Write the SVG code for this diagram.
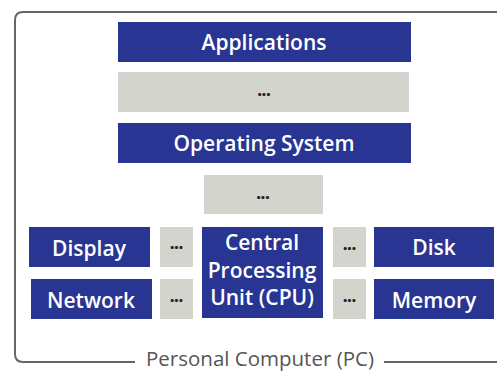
<svg xmlns="http://www.w3.org/2000/svg" width="497" height="371" viewBox="0 0 497 371">
<style>
.b{fill:#283593}
.g{fill:#d4d4cf}
.t{font-family:"Open Sans","Liberation Sans",sans-serif;font-weight:600;font-size:21px;fill:#fff;text-anchor:middle}
.d{font-family:"Open Sans","Liberation Sans",sans-serif;font-weight:800;font-size:15px;fill:#222;text-anchor:middle}
.f{fill:none;stroke:#666;stroke-width:2}
.l{font-family:"Open Sans","Liberation Sans",sans-serif;font-size:20.5px;fill:#555;text-anchor:middle}
</style>
<g id="frame">
<path class="f" d="M135,362 H23 Q15,362 15,354 V20 Q15,12 23,12 H500"/>
<path class="f" d="M384,362 H500"/>
<text class="l" x="260" y="366">Personal Computer (PC)</text>
</g>
<g id="connectors"></g>
<g id="applications"><rect class="b" x="118" y="22" width="293" height="40"/><text class="t" x="264" y="50">Applications</text></g>
<g id="dots1"><rect class="g" x="118" y="72" width="291" height="40"/><text class="d" x="264" y="96">...</text></g>
<g id="os"><rect class="b" x="118" y="123" width="293" height="40"/><text class="t" x="264" y="151">Operating System</text></g>
<g id="dots2"><rect class="g" x="204" y="175" width="119" height="39"/><text class="d" x="263" y="199">...</text></g>
<g id="display"><rect class="b" x="29" y="227" width="121" height="40"/><text class="t" x="89" y="256">Display</text></g>
<g id="network"><rect class="b" x="31" y="279" width="121" height="40"/><text class="t" x="91" y="308">Network</text></g>
<g id="dots3"><rect class="g" x="160" y="227" width="33" height="40"/><text class="d" x="176.5" y="249">...</text></g>
<g id="dots4"><rect class="g" x="160" y="279" width="33" height="40"/><text class="d" x="176.5" y="302">...</text></g>
<g id="cpu"><rect class="b" x="202" y="227" width="121" height="91"/>
<text class="t" x="262" y="250">Central</text>
<text class="t" x="262" y="278">Processing</text>
<text class="t" x="262" y="305">Unit (CPU)</text></g>
<g id="dots5"><rect class="g" x="333" y="227" width="33" height="40"/><text class="d" x="349.5" y="250">...</text></g>
<g id="dots6"><rect class="g" x="333" y="279" width="33" height="40"/><text class="d" x="349.5" y="302">...</text></g>
<g id="disk"><rect class="b" x="374" y="227" width="120" height="40"/><text class="t" x="434" y="255">Disk</text></g>
<g id="memory"><rect class="b" x="374" y="279" width="120" height="40"/><text class="t" x="434" y="308">Memory</text></g>
</svg>
